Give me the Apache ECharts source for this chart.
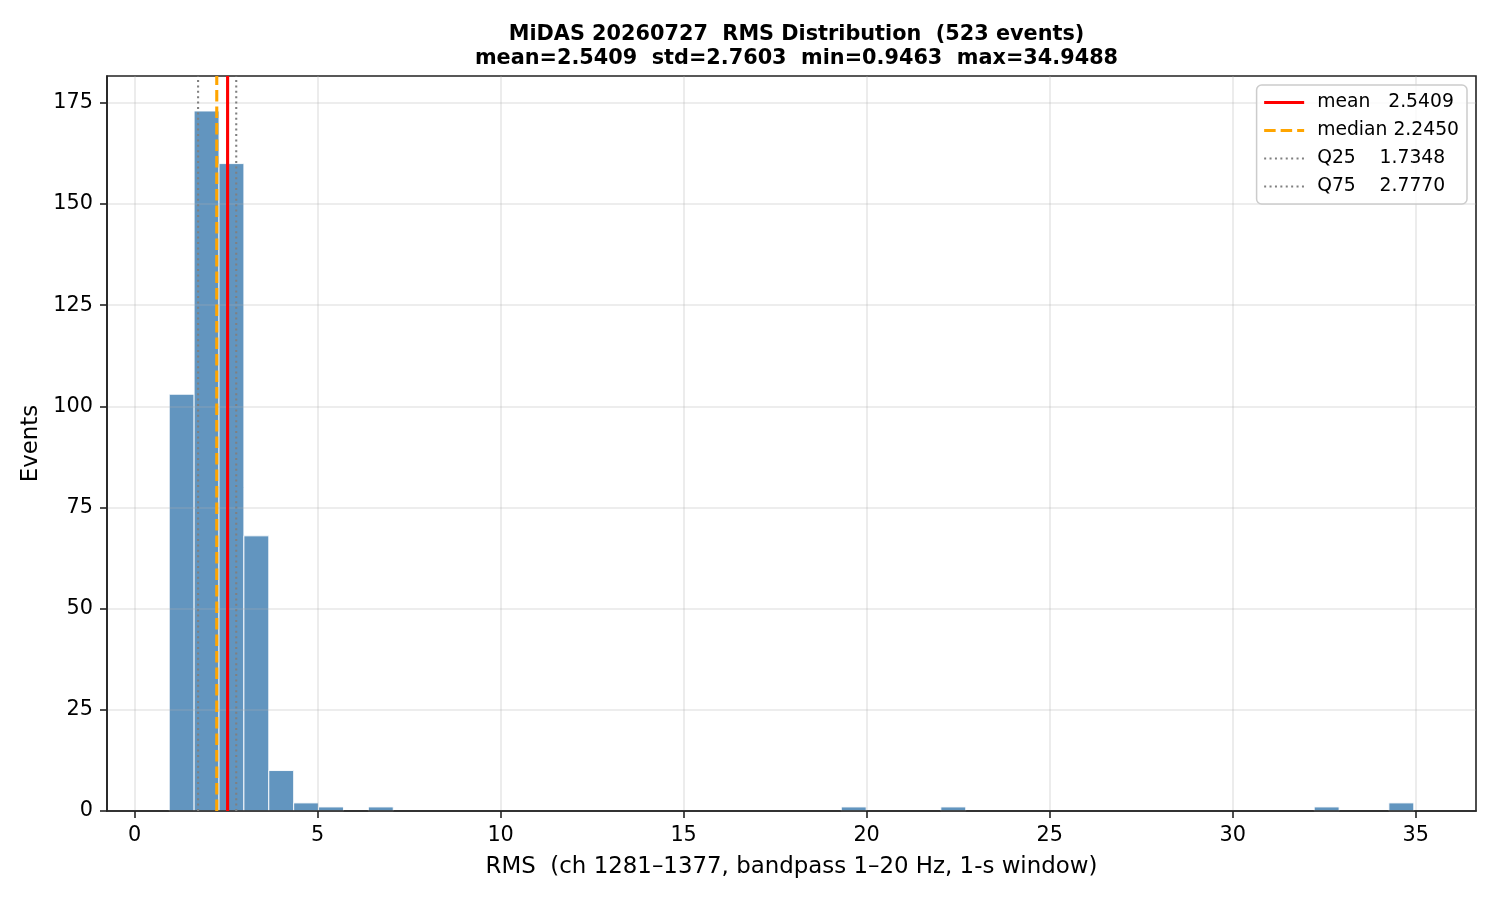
<!DOCTYPE html>
<html>
<head>
<meta charset="utf-8">
<script src="https://cdn.jsdelivr.net/npm/echarts@6/dist/echarts.min.js"></script>
<style>html,body{margin:0;padding:0;background:#fff;}#c{width:1500px;height:900px;}</style>
</head>
<body>
<div id="c"></div>
<script>
// ---- data ----
const rmsMin = 0.9463;
const rmsMax = 34.9488;
const nBins = 50;
const binCounts = [103,173,160,68,10,2,1,0,1,0, 0,0,0,0,0,0,0,0,0,0, 0,0,0,0,0,0,0,1,0,0, 0,1,0,0,0,0,0,0,0,0, 0,0,0,0,0,0,1,0,0,2];
const statMean = 2.5409, statMedian = 2.2450, statQ25 = 1.7348, statQ75 = 2.7770;
const statStd = 2.7603, nEvents = 523;
const xTicks = [0,5,10,15,20,25,30,35];
const yTicks = [0,25,50,75,100,125,150,175];
const legendLabels = ['mean   2.5409', 'median 2.2450', 'Q25    1.7348', 'Q75    2.7770'];

const binWidth = (rmsMax - rmsMin) / nBins;
const histData = binCounts.map((c, i) => [rmsMin + i * binWidth, rmsMin + (i + 1) * binWidth, c]);
const span = rmsMax - rmsMin;
const xMin = rmsMin - 0.05 * span, xMax = rmsMax + 0.05 * span;
const yMax = Math.max(...binCounts) * 1.05;

const FONT = 'DejaVu Sans';
const chart = echarts.init(document.getElementById('c'), null, {renderer: 'canvas'});

function vline(name, x, color, type, width) {
  return {
    type: 'line', name: name, z: 5, symbol: 'none', showSymbol: false, silent: true, animation: false,
    data: [[x, 0], [x, yMax]],
    lineStyle: {color: color, type: type, width: width},
    itemStyle: {color: color}
  };
}

chart.setOption({
  animation: false,
  backgroundColor: '#fff',
  title: {
    text: 'MiDAS 20260727  RMS Distribution  (' + nEvents + ' events)\nmean=' + statMean.toFixed(4) + '  std=' + statStd.toFixed(4) + '  min=' + rmsMin.toFixed(4) + '  max=' + rmsMax.toFixed(4),
    left: 791.5, top: 18, textAlign: 'center',
    textStyle: {fontFamily: FONT, fontWeight: 'bold', fontSize: 20.8, lineHeight: 24, color: '#000'}
  },
  grid: {left: 107, right: 24, top: 76, bottom: 89, show: true, borderColor: '#222', borderWidth: 1.6, backgroundColor: 'transparent'},
  legend: {
    right: 33, top: 85, orient: 'vertical',
    data: [
      {name: legendLabels[0], lineStyle: {width: 3.1}},
      {name: legendLabels[1], lineStyle: {width: 3.1}},
      {name: legendLabels[2], lineStyle: {width: 2.1}},
      {name: legendLabels[3], lineStyle: {width: 2.1}}
    ],
    itemWidth: 40, itemHeight: 12, itemGap: 9,
    padding: [8, 8, 8, 6],
    itemStyle: {opacity: 0},
    backgroundColor: 'rgba(255,255,255,0.8)', borderColor: '#cccccc', borderWidth: 1.5, borderRadius: 5,
    textStyle: {fontFamily: FONT, fontSize: 18.75, color: '#000', padding: [0, 0, 0, 8]}
  },
  xAxis: {
    type: 'value', min: xMin, max: xMax, z: 3,
    name: 'RMS  (ch 1281\u20131377, bandpass 1\u201320 Hz, 1-s window)',
    nameLocation: 'middle', nameGap: 45,
    nameTextStyle: {fontFamily: FONT, fontSize: 22.9, color: '#000'},
    axisLine: {show: true, onZero: false, lineStyle: {color: '#222', width: 1.6}},
    axisTick: {show: true, length: 7, customValues: xTicks, lineStyle: {color: '#222', width: 1.6}},
    axisLabel: {customValues: xTicks, margin: 14, fontFamily: FONT, fontSize: 20.8, color: '#000', formatter: v => String(v)},
    splitLine: {show: true, lineStyle: {color: 'rgba(176,176,176,0.3)', width: 1.6}}
  },
  yAxis: {
    type: 'value', min: 0, max: yMax, z: 3,
    name: 'Events', nameLocation: 'middle', nameGap: 59, nameRotate: 90,
    nameTextStyle: {fontFamily: FONT, fontSize: 22.9, color: '#000'},
    axisLine: {show: true, onZero: false, lineStyle: {color: '#222', width: 1.6}},
    axisTick: {show: true, length: 7, customValues: yTicks, lineStyle: {color: '#222', width: 1.6}},
    axisLabel: {customValues: yTicks, margin: 14, fontFamily: FONT, fontSize: 20.8, color: '#000', formatter: v => String(v)},
    splitLine: {show: true, lineStyle: {color: 'rgba(176,176,176,0.3)', width: 1.6}}
  },
  series: [
    {
      type: 'custom', z: 1, silent: true,
      data: histData,
      encode: {x: [0, 1], y: 2},
      renderItem: function (params, api) {
        const c = api.value(2);
        if (!c) return null;
        const p0 = api.coord([api.value(0), c]);
        const p1 = api.coord([api.value(1), 0]);
        return {
          type: 'rect',
          shape: {x: p0[0], y: p0[1], width: p1[0] - p0[0], height: p1[1] - p0[1]},
          style: {fill: 'rgba(70,130,180,0.85)', stroke: 'rgba(255,255,255,0.9)', lineWidth: 1}
        };
      }
    },
    vline(legendLabels[0], statMean, '#ff0000', 'solid', 3.1),
    vline(legendLabels[1], statMedian, '#ffa500', [11.5, 5], 3.1),
    vline(legendLabels[2], statQ25, '#808080', [2, 3.4], 2.1),
    vline(legendLabels[3], statQ75, '#808080', [2, 3.4], 2.1)
  ]
});
</script>
</body>
</html>
